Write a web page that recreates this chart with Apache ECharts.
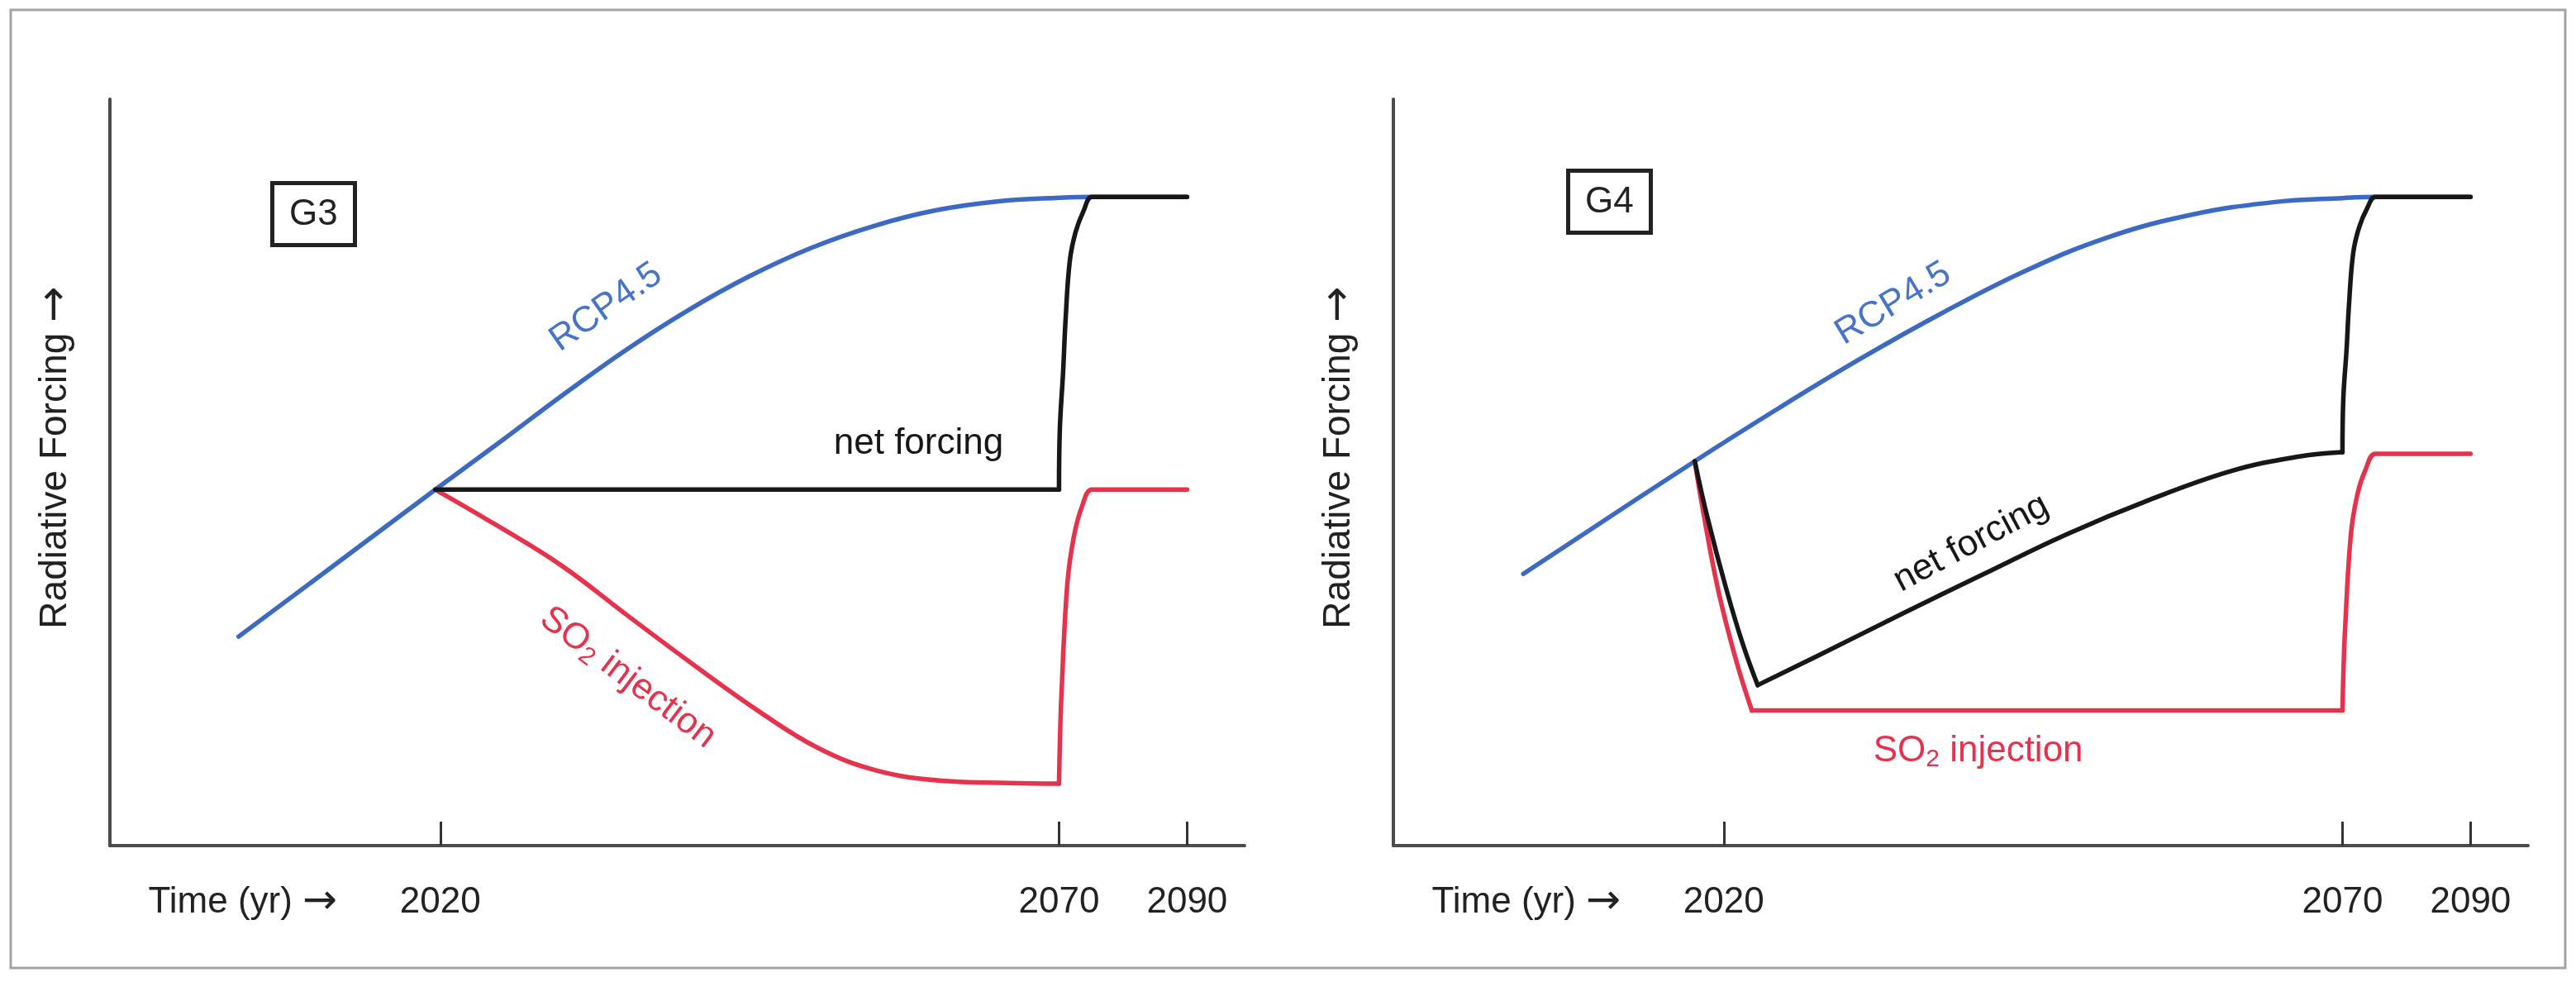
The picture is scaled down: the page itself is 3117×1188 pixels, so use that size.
<!DOCTYPE html>
<html>
<head>
<meta charset="utf-8">
<script src="https://cdn.jsdelivr.net/npm/echarts@6/dist/echarts.min.js"></script>
<style>
html,body{margin:0;padding:0;background:#ffffff;}
#c{width:3117px;height:1188px;}
</style>
</head>
<body>
<div id="c"></div>
<script>
// ---- data (schematic units: x = years on the drawn axis, y = relative forcing) ----
const xTickValues = [2020, 2070, 2080.35];
const xTickLabels = ['2020', '2070', '2090'];
const xAxisName = '{t|Time (yr)\u00a0}{a|\u2192}';
const yAxisName = '{t|Radiative Forcing\u00a0}{a|\u2192}';
const panelNames = ['G3', 'G4'];
const seriesNames = ['RCP4.5', 'net forcing', 'SO2 injection'];

const g3Rcp = [[2003.7,28.0],[2010,35.8],[2019.6,47.7],[2025,54.3],[2030,60.5],[2035,66.4],[2040,71.7],[2045,76.3],[2050,80.1],[2055,83.0],[2060,85.1],[2065,86.3],[2070,86.8],[2072.67,86.9],[2080.35,86.9]];
const g3Net = [[2019.6,47.7],[2070,47.7],[2070.07,55.9],[2070.33,63.4],[2070.53,70.4],[2070.87,78.3],[2071.34,82.2],[2072,85.1],[2072.67,86.9],[2074.5,86.9],[2080.35,86.9]];
const g3So2 = [[2019.6,47.7],[2024.47,43.0],[2029.81,37.5],[2035.15,30.8],[2040.49,24.2],[2045.83,17.9],[2050.51,13.1],[2055.18,10.1],[2060.52,8.7],[2065.86,8.4],[2070,8.3],[2070.07,13.7],[2070.2,20.3],[2070.67,35.0],[2071.2,41.4],[2071.87,45.5],[2072.67,47.7],[2074.5,47.7],[2080.35,47.7]];
const g3NetBreaks = [1];
const g3So2Breaks = [10];

const g4Rcp = [[2003.8,36.4],[2017.66,51.5],[2024.34,58.5],[2031.02,65.2],[2037.7,71.4],[2044.37,77.0],[2051.05,81.5],[2057.73,84.5],[2064.41,86.2],[2070,86.75],[2072.67,86.9],[2080.35,86.9]];
const g4Net = [[2017.66,51.5],[2018.66,44.1],[2020.2,34.4],[2021.54,27.0],[2022.74,21.5],[2027.68,25.5],[2034.35,31.0],[2041.03,36.4],[2047.7,41.7],[2054.38,46.3],[2061.05,50.2],[2066.4,52.1],[2070,52.7],[2070.07,59.9],[2070.33,66.4],[2070.53,72.5],[2070.87,79.4],[2071.34,82.8],[2072,85.4],[2072.67,86.9],[2074.5,86.9],[2080.35,86.9]];
const g4So2 = [[2017.66,51.5],[2018.26,45.5],[2019.53,34.4],[2021.0,24.8],[2022.27,18.1],[2070,18.1],[2070.07,22.8],[2070.2,28.6],[2070.67,41.5],[2071.2,47.0],[2071.87,50.4],[2072.67,52.5],[2074.5,52.5],[2080.35,52.5]];
const g4NetBreaks = [4, 12];
const g4So2Breaks = [4, 5];

// ---- styling / layout ----
const FONT = "'Liberation Sans', Arial, Helvetica, sans-serif";
const ARROW_FONT = "'DejaVu Sans', sans-serif";
const BLUE = '#3b69c3';
const BLUE_TXT = '#4774c8';
const RED = '#e5324d';
const BLACK = '#171717';
const AXIS = '#4b4b4b';
const TXT = '#222222';
const xMin = 1993.3, xMax = 2085;

function tickFormatter(val) {
  const i = xTickValues.findIndex(v => Math.abs(v - val) < 0.01);
  return i >= 0 ? xTickLabels[i] : '';
}

function xAxisFor(gi) {
  return {
    type: 'value', gridIndex: gi, min: xMin, max: xMax,
    name: xAxisName, nameLocation: 'start', nameGap: -275,
    nameTextStyle: {
      align: 'right', verticalAlign: 'top', lineHeight: 138,
      rich: {
        t: {fontSize: 44, color: TXT, fontFamily: FONT, lineHeight: 138},
        a: {fontSize: 50, color: TXT, fontFamily: ARROW_FONT, lineHeight: 138}
      }
    },
    axisLine: {show: true, onZero: false, lineStyle: {color: AXIS, width: 4}},
    axisTick: {show: true, inside: true, length: 29, customValues: xTickValues, lineStyle: {color: '#333', width: 3}},
    axisLabel: {show: true, customValues: xTickValues, formatter: tickFormatter, margin: 47, fontSize: 44, color: TXT, fontFamily: FONT},
    splitLine: {show: false}
  };
}
function yAxisFor(gi) {
  return {
    type: 'value', gridIndex: gi, min: 0, max: 100,
    name: yAxisName, nameLocation: 'middle', nameGap: 40, nameRotate: 90,
    nameTextStyle: {
      rich: {
        t: {fontSize: 46, color: TXT, fontFamily: FONT, padding: [0, 0, 0, 36]},
        a: {fontSize: 52, color: TXT, fontFamily: ARROW_FONT}
      }
    },
    axisLine: {show: true, lineStyle: {color: AXIS, width: 4}},
    axisTick: {show: false}, axisLabel: {show: false}, splitLine: {show: false}
  };
}
function note(text, coord, rotate, color) {
  return {
    coord: coord, value: 0,
    label: {
      show: true, position: 'inside', formatter: text, rotate: rotate, color: color,
      fontSize: 44, fontFamily: FONT,
      rich: {s: {fontSize: 30, color: color, fontFamily: FONT, padding: [20, 0, 0, 0]}}
    }
  };
}
// one curve -> several smooth pieces, split at its sharp corners
function curve(name, data, breaks, color, gi, notes) {
  const cuts = [0].concat(breaks, [data.length - 1]);
  const out = [];
  for (let k = 0; k < cuts.length - 1; k++) {
    const piece = data.slice(cuts[k], cuts[k + 1] + 1);
    out.push({
      type: 'line', name: name, data: piece, xAxisIndex: gi, yAxisIndex: gi,
      showSymbol: false, symbol: 'none', smooth: piece.length > 2 ? 0.4 : false, silent: true,
      lineStyle: {color: color, width: 5.5, cap: 'round', join: 'round'},
      markPoint: k === 0 ? {symbol: 'circle', symbolSize: 0, silent: true, itemStyle: {color: 'rgba(0,0,0,0)'}, data: notes} : undefined
    });
  }
  return out;
}

const chart = echarts.init(document.getElementById('c'), null, {renderer: 'canvas'});
chart.setOption({
  backgroundColor: '#ffffff',
  animation: false,
  title: [
    {text: panelNames[0], left: 329, top: 221, padding: [17, 21, 15, 21], borderWidth: 5, borderColor: '#222',
     textStyle: {fontSize: 44, fontWeight: 'normal', color: TXT, fontFamily: FONT}},
    {text: panelNames[1], left: 1897, top: 206, padding: [17, 21, 15, 21], borderWidth: 5, borderColor: '#222',
     textStyle: {fontSize: 44, fontWeight: 'normal', color: TXT, fontFamily: FONT}}
  ],
  graphic: [
    {type: 'rect', shape: {x: 13, y: 12, width: 3091, height: 1159}, style: {fill: 'none', stroke: '#a3a3a3', lineWidth: 3}, silent: true}
  ],
  grid: [
    {left: 133, top: 120, width: 1373, height: 903},
    {left: 1686, top: 120, width: 1373, height: 903}
  ],
  xAxis: [xAxisFor(0), xAxisFor(1)],
  yAxis: [yAxisFor(0), yAxisFor(1)],
  series: [].concat(
    curve(seriesNames[0], g3Rcp, [], BLUE, 0, [note(seriesNames[0], [2033.4, 72.1], 35, BLUE_TXT)]),
    curve(seriesNames[2], g3So2, g3So2Breaks, RED, 0, [note('SO{s|2} injection', [2035.15, 22.5], -37, RED)]),
    curve(seriesNames[1], g3Net, g3NetBreaks, BLACK, 0, [note(seriesNames[1], [2058.65, 53.8], 0, BLACK)]),
    curve(seriesNames[0], g4Rcp, [], BLUE, 1, [note(seriesNames[0], [2033.7, 72.6], 31, BLUE_TXT)]),
    curve(seriesNames[2], g4So2, g4So2Breaks, RED, 1, [note('SO{s|2} injection', [2040.56, 12.6], 0, RED)]),
    curve(seriesNames[1], g4Net, g4NetBreaks, BLACK, 1, [note(seriesNames[1], [2040.0, 40.5], 28, BLACK)])
  )
});
</script>
</body>
</html>
